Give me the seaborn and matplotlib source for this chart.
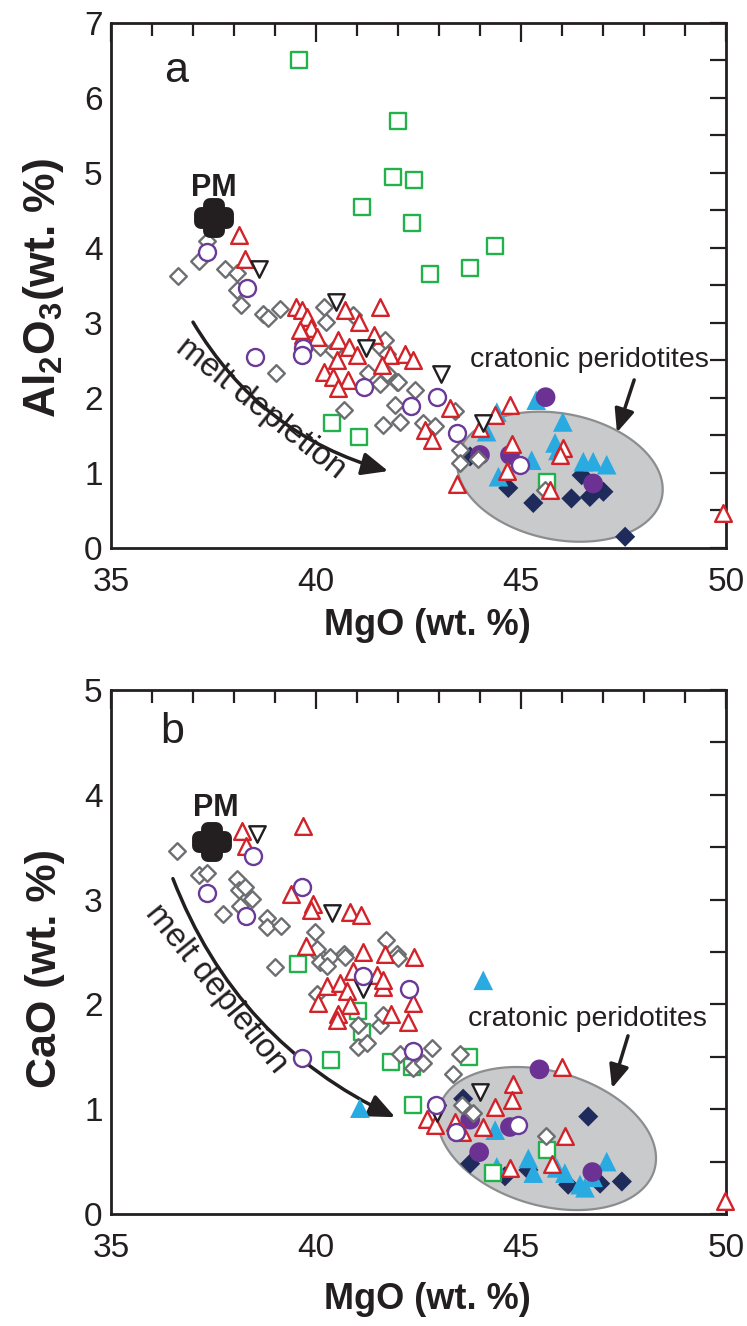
import numpy as np
import matplotlib
matplotlib.use("Agg")
import matplotlib.pyplot as plt
import seaborn as sns
from matplotlib.patches import Polygon
from matplotlib.ticker import MultipleLocator

sns.set_theme(style="white")
plt.rcParams['font.family'] = ['Liberation Sans', 'DejaVu Sans']
plt.rcParams['mathtext.fontset'] = 'custom'
plt.rcParams['mathtext.rm'] = 'Liberation Sans'
plt.rcParams['mathtext.bf'] = 'Liberation Sans:bold'

# ---------------- Panel a: MgO vs Al2O3 ----------------
a_dia_x = [36.63, 37.15, 37.35, 37.78, 38.08, 38.07, 38.16, 38.71, 38.84, 39.12, 39.02, 40.20, 40.24, 40.10,
           40.91, 41.56, 41.72, 41.27, 41.56, 41.97, 41.93, 41.64, 42.05, 40.69, 42.41, 40.42, 41.68, 41.72,
           42.01, 42.62, 42.90, 43.39, 43.51, 43.51, 43.96, 45.59]
a_dia_y = [3.62, 3.83, 4.09, 3.72, 3.66, 3.44, 3.24, 3.12, 3.06, 3.19, 2.33, 3.21, 3.01, 2.68,
           3.10, 2.68, 2.59, 2.33, 2.19, 2.21, 1.90, 1.64, 1.68, 1.84, 2.10, 2.64, 2.77, 2.33,
           2.21, 1.66, 1.62, 1.82, 1.30, 1.13, 1.19, 0.77]

a_tri_x = [38.11, 38.27, 39.50, 39.65, 39.79, 40.71, 41.56, 39.89, 41.06, 39.69, 41.41, 40.02, 40.54, 40.81,
           40.99, 40.50, 41.80, 42.17, 42.37, 41.60, 40.20, 40.42, 40.79, 40.54, 39.61, 43.27, 44.73, 44.37,
           42.66, 42.82, 44.00, 44.77, 46.02, 45.95, 44.65, 45.71, 43.45, 49.92]
a_tri_y = [4.17, 3.85, 3.21, 3.17, 3.08, 3.17, 3.21, 2.93, 3.01, 2.84, 2.84, 2.81, 2.77, 2.68,
           2.57, 2.50, 2.57, 2.59, 2.50, 2.44, 2.35, 2.28, 2.24, 2.13, 2.90, 1.86, 1.90, 1.77,
           1.57, 1.44, 1.60, 1.39, 1.33, 1.24, 1.02, 0.77, 0.85, 0.46]

a_circ_x = [37.35, 38.31, 38.50, 39.69, 39.67, 41.17, 42.32, 42.94, 43.43, 44.98]
a_circ_y = [3.94, 3.47, 2.55, 2.67, 2.57, 2.15, 1.89, 2.01, 1.53, 1.10]

a_down_x = [38.62, 40.49, 41.23, 43.05, 44.07]
a_down_y = [3.72, 3.28, 2.66, 2.32, 1.66]

a_sq_x = [39.59, 41.99, 41.88, 42.39, 41.12, 42.34, 42.78, 43.76, 44.37, 40.40, 41.04, 45.63]
a_sq_y = [6.50, 5.69, 4.94, 4.90, 4.54, 4.33, 3.65, 3.73, 4.03, 1.66, 1.48, 0.88]

a_cyan_x = [45.37, 46.02, 45.83, 45.26, 46.52, 46.76, 47.09, 44.45, 44.41, 44.16, 45.90]
a_cyan_y = [1.97, 1.68, 1.40, 1.17, 1.15, 1.15, 1.11, 0.95, 1.81, 1.55, 1.30]

a_navy_x = [44.69, 45.30, 46.23, 46.68, 47.01, 46.48, 47.54, 43.76]
a_navy_y = [0.80, 0.60, 0.66, 0.68, 0.75, 0.97, 0.15, 1.22]

a_pfill_x = [45.60, 46.76, 44.00, 44.73]
a_pfill_y = [2.01, 0.86, 1.24, 1.24]

a_pm = (37.5, 4.40)

# ---------------- Panel b: MgO vs CaO ----------------
b_dia_x = [36.62, 37.15, 37.35, 38.08, 38.11, 38.27, 38.43, 38.15, 37.74, 38.80, 38.80, 39.14, 39.98, 40.06,
           40.68, 41.71, 41.97, 39.00, 40.02, 40.10, 40.34, 40.71, 40.02, 40.26, 42.01, 41.03, 41.03, 41.24,
           41.56, 41.64, 42.05, 42.37, 42.82, 42.62, 43.51, 43.35, 43.55, 43.84, 45.60]
b_dia_y = [3.46, 3.23, 3.25, 3.20, 3.09, 3.12, 3.01, 2.94, 2.86, 2.82, 2.74, 2.75, 2.69, 2.48,
           2.48, 2.61, 2.48, 2.36, 2.53, 2.40, 2.45, 2.45, 2.10, 2.37, 2.44, 1.80, 1.59, 1.63,
           1.80, 1.90, 1.53, 1.39, 1.58, 1.44, 1.53, 1.34, 1.04, 0.96, 0.74]

b_tri_x = [38.19, 38.29, 39.69, 39.38, 39.93, 39.89, 40.83, 41.09, 39.75, 41.15, 41.68, 42.39, 40.91, 41.48,
           40.26, 40.58, 40.75, 41.64, 40.06, 40.83, 40.54, 40.50, 41.84, 42.25, 42.37, 41.64, 45.99, 44.81,
           44.77, 44.37, 42.70, 42.90, 43.39, 43.55, 44.08, 46.07, 45.75, 44.73, 49.98]
b_tri_y = [3.65, 3.51, 3.70, 3.05, 2.96, 2.90, 2.88, 2.85, 2.56, 2.50, 2.48, 2.45, 2.32, 2.28,
           2.18, 2.20, 2.13, 2.17, 2.01, 1.99, 1.91, 1.85, 1.91, 1.83, 2.01, 2.23, 1.40, 1.24,
           1.09, 1.02, 0.91, 0.85, 0.88, 0.78, 0.83, 0.74, 0.48, 0.44, 0.12]

b_circ_x = [38.47, 37.35, 38.29, 39.65, 39.67, 41.15, 42.27, 42.36, 42.93, 43.41, 44.93]
b_circ_y = [3.42, 3.06, 2.84, 3.12, 1.49, 2.27, 2.15, 1.56, 1.04, 0.78, 0.85]

b_down_x = [38.55, 40.40, 41.15, 44.00, 42.94]
b_down_y = [3.63, 2.87, 2.15, 1.16, 0.96]

b_sq_x = [39.57, 40.36, 41.03, 41.11, 41.84, 42.33, 42.37, 43.72, 45.63, 44.32]
b_sq_y = [2.39, 1.47, 1.94, 1.74, 1.45, 1.40, 1.04, 1.50, 0.61, 0.39]

b_cyan_x = [41.07, 44.08, 44.37, 45.18, 45.30, 44.41, 45.87, 46.07, 46.44, 46.56, 47.09, 46.76]
b_cyan_y = [1.01, 2.23, 0.80, 0.53, 0.39, 0.45, 0.44, 0.39, 0.28, 0.25, 0.50, 0.35]

b_navy_x = [46.64, 43.76, 44.61, 45.18, 46.15, 46.93, 47.46, 43.59]
b_navy_y = [0.93, 0.48, 0.36, 0.42, 0.28, 0.29, 0.31, 1.10]

b_pfill_x = [45.45, 43.98, 46.74, 43.76, 44.73]
b_pfill_y = [1.38, 0.59, 0.40, 0.90, 0.83]

b_pm = (37.47, 3.55)

x_ticks = [35, 40, 45, 50]
a_yticks = list(range(0, 8))
b_yticks = list(range(0, 6))

# ---------------- Styling ----------------
GRAY = '#6d6e71'
RED = '#d2232a'
PURPLE = '#6a3a97'
BLACK = '#231f20'
GREEN = '#22b24c'
CYAN = '#29abe2'
NAVY = '#1f2b5b'
PFILL = '#6b3293'
ELL_FACE = '#c9cacc'
ELL_EDGE = '#8c8d8f'

fig = plt.figure(figsize=(7.47, 13.26), dpi=100)
W, H = 747.0, 1326.0
ax_a = fig.add_axes([111 / W, 1 - 548 / H, 615 / W, (548 - 22.7) / H])
ax_b = fig.add_axes([111 / W, 1 - 1214 / H, 615 / W, (1214 - 690) / H])


def setup_axes(ax, ymax, yticks):
    ax.set_xlim(35, 50)
    ax.set_ylim(0, ymax)
    ax.set_xticks(x_ticks)
    ax.set_yticks(yticks)
    ax.xaxis.set_minor_locator(MultipleLocator(1))
    ax.yaxis.set_minor_locator(MultipleLocator(0.5))
    ax.tick_params(which='both', direction='in', top=True, right=True, width=1.6,
                   color=BLACK, labelsize=24, labelcolor=BLACK)
    ax.tick_params(axis='x', which='major', length=13.5, pad=14)
    ax.tick_params(axis='x', which='minor', length=9.3)
    ax.tick_params(axis='y', which='both', length=11.5, pad=6)
    for s in ax.spines.values():
        s.set_linewidth(2.0)
        s.set_color(BLACK)
    ax.set_facecolor('white')


def add_ellipse(ax, center, a_px, b_px, angle_deg):
    cx, cy = ax.transData.transform(center)
    t = np.linspace(0, 2 * np.pi, 300)
    th = np.deg2rad(angle_deg)
    xs = cx + a_px * np.cos(t) * np.cos(th) - b_px * np.sin(t) * np.sin(th)
    ys = cy + a_px * np.cos(t) * np.sin(th) + b_px * np.sin(t) * np.cos(th)
    pts = ax.transData.inverted().transform(np.column_stack([xs, ys]))
    ax.add_patch(Polygon(pts, closed=True, fc=ELL_FACE, ec=ELL_EDGE, lw=1.6, zorder=1))


def open_pts(ax, x, y, marker, s, col, z, lw=1.7):
    sns.scatterplot(x=x, y=y, marker=marker, s=s, color='white', edgecolor=col,
                    linewidth=lw, zorder=z, clip_on=False, ax=ax)


def filled_pts(ax, x, y, marker, s, col, z):
    sns.scatterplot(x=x, y=y, marker=marker, s=s, color=col, edgecolor='none',
                    linewidth=0, zorder=z, clip_on=False, ax=ax)


def draw_panel(ax, d):
    filled_pts(ax, d['navy'][0], d['navy'][1], 'D', 105, NAVY, 3)
    filled_pts(ax, d['cyan'][0], d['cyan'][1], '^', 200, CYAN, 4)
    filled_pts(ax, d['pfill'][0], d['pfill'][1], 'o', 200, PFILL, 5)
    open_pts(ax, d['sq'][0], d['sq'][1], 's', 135, GREEN, 6)
    open_pts(ax, d['dia'][0], d['dia'][1], 'D', 72, GRAY, 7)
    open_pts(ax, d['tri'][0], d['tri'][1], '^', 145, RED, 8)
    open_pts(ax, d['down'][0], d['down'][1], 'v', 140, BLACK, 9)
    open_pts(ax, d['circ'][0], d['circ'][1], 'o', 150, PURPLE, 10)
    # PM marker: thick rounded cross
    sns.scatterplot(x=[d['pm'][0]], y=[d['pm'][1]], marker='P', s=370, color=BLACK,
                    edgecolor=BLACK, linewidth=10, zorder=11, clip_on=False, ax=ax)


setup_axes(ax_a, 7, a_yticks)
setup_axes(ax_b, 5, b_yticks)

add_ellipse(ax_a, (45.95, 0.95), 104, 63, -11.2)
add_ellipse(ax_b, (45.63, 0.72), 112, 67, -16.2)

draw_panel(ax_a, dict(navy=(a_navy_x, a_navy_y), cyan=(a_cyan_x, a_cyan_y), pfill=(a_pfill_x, a_pfill_y),
                      sq=(a_sq_x, a_sq_y), dia=(a_dia_x, a_dia_y), tri=(a_tri_x, a_tri_y),
                      down=(a_down_x, a_down_y), circ=(a_circ_x, a_circ_y), pm=a_pm))
draw_panel(ax_b, dict(navy=(b_navy_x, b_navy_y), cyan=(b_cyan_x, b_cyan_y), pfill=(b_pfill_x, b_pfill_y),
                      sq=(b_sq_x, b_sq_y), dia=(b_dia_x, b_dia_y), tri=(b_tri_x, b_tri_y),
                      down=(b_down_x, b_down_y), circ=(b_circ_x, b_circ_y), pm=b_pm))

ax_a.set_xlim(35, 50)
ax_b.set_xlim(35, 50)
ax_a.set_ylim(0, 7)
ax_b.set_ylim(0, 5)

# axis labels
ax_a.set_xlabel('MgO (wt. %)', fontsize=26, fontweight='bold', color=BLACK, va='center')
ax_a.xaxis.set_label_coords(0.514, -0.147)
ax_b.set_xlabel('MgO (wt. %)', fontsize=26, fontweight='bold', color=BLACK, va='center')
ax_b.xaxis.set_label_coords(0.514, -0.164)

ax_a.set_ylabel(r'Al$_\mathbf{2}$O$_\mathbf{3}$(wt. %)', fontsize=32, fontweight='bold',
                color=BLACK, va='center')
ax_a.yaxis.set_label_coords(-0.11, 0.495)
ax_b.set_ylabel('CaO (wt. %)', fontsize=31, fontweight='bold', color=BLACK, va='center')
ax_b.yaxis.set_label_coords(-0.107, 0.469)

# panel letters
ax_a.text(36.6, 6.35, 'a', fontsize=31, color=BLACK, ha='center', va='center')
ax_b.text(36.5, 4.6, 'b', fontsize=31, color=BLACK, ha='center', va='center')

# PM labels
ax_a.text(37.5, 4.8, 'PM', fontsize=22, fontweight='bold', color=BLACK, ha='center', va='center')
ax_b.text(37.55, 3.87, 'PM', fontsize=22, fontweight='bold', color=BLACK, ha='center', va='center')

# cratonic peridotites
ax_a.text(46.66, 2.50, 'cratonic peridotites', fontsize=20.5, color=BLACK, ha='center', va='center')
ax_a.annotate('', xy=(47.34, 1.54), xytext=(47.76, 2.24),
              arrowprops=dict(arrowstyle='-|>,head_length=0.7,head_width=0.3', lw=2.5, color=BLACK,
                              mutation_scale=20, shrinkA=0, shrinkB=0))
ax_b.text(46.63, 1.86, 'cratonic peridotites', fontsize=20.5, color=BLACK, ha='center', va='center')
ax_b.annotate('', xy=(47.22, 1.20), xytext=(47.61, 1.70),
              arrowprops=dict(arrowstyle='-|>,head_length=0.7,head_width=0.3', lw=2.5, color=BLACK,
                              mutation_scale=20, shrinkA=0, shrinkB=0))

# melt depletion
ax_a.annotate('', xy=(41.76, 1.025), xytext=(37.0, 3.01),
              arrowprops=dict(arrowstyle='-|>,head_length=0.8,head_width=0.35', lw=2.5, color=BLACK,
                              mutation_scale=20, shrinkA=0, shrinkB=0,
                              connectionstyle='arc3,rad=0.2'))
ax_a.text(38.66, 1.86, 'melt depletion', fontsize=24, color=BLACK, ha='center', va='center',
          rotation=-38.5, rotation_mode='anchor')
ax_b.annotate('', xy=(41.93, 0.924), xytext=(36.51, 3.20),
              arrowprops=dict(arrowstyle='-|>,head_length=0.8,head_width=0.35', lw=2.5, color=BLACK,
                              mutation_scale=20, shrinkA=0, shrinkB=0,
                              connectionstyle='arc3,rad=0.2'))
ax_b.text(37.58, 2.15, 'melt depletion', fontsize=24, color=BLACK, ha='center', va='center',
          rotation=-51, rotation_mode='anchor')

fig.savefig('out.png', dpi=100, facecolor='white')
